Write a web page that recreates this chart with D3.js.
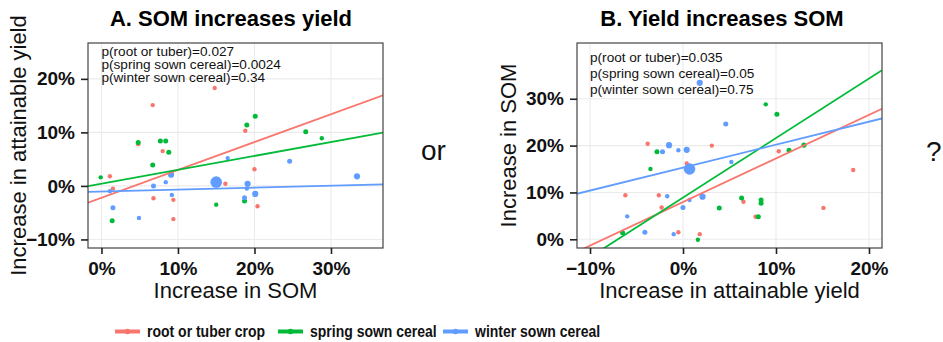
<!DOCTYPE html>
<html>
<head>
<meta charset="utf-8">
<script src="https://cdn.jsdelivr.net/npm/d3@7"></script>
<style>
body { margin: 0; background: #fff; }
text { font-family: "Liberation Sans", Arial, sans-serif; }
</style>
</head>
<body>
<div id="chart"></div>
<script>
const width = 943;
const height = 342;

// crop groups and ggplot default colours
const groups = ["root or tuber crop", "spring sown cereal", "winter sown cereal"];
const colors = ["#F8766D", "#00BA38", "#619CFF"];

// % increase in SOM and in attainable yield, per trial
const rootSOM = [14.8, 6.7, 18.8, 4.8, 8.0, 1.1, 1.5, 6.8, 9.4, 9.4, 16.2, 20.0, 20.4];
const rootYield = [18.3, 15.1, 10.3, 7.8, 6.5, 1.8, -0.5, -2.3, -2.6, -6.2, 0.4, 3.1, -3.8];
const rootWeight = [1, 1, 1, 1, 1, 1, 1, 1, 1, 1, 1, 1, 1];

const springSOM = [19.0, 20.1, 26.7, 28.8, 4.8, 7.7, 8.4, 8.8, 6.7, -0.1, 1.4, 15.0, 18.7];
const springYield = [11.4, 13.0, 10.1, 8.9, 8.1, 8.4, 8.4, 6.3, 3.9, 1.6, -6.5, -3.5, -2.8];
const springWeight = [1.3, 1.3, 1.3, 1, 1.3, 1.3, 1.3, 1.3, 1.3, 1, 1.3, 1, 1.3];

const winterSOM = [1.5, 4.9, 6.8, 8.4, 9.1, 9.2, 15.0, 16.5, 19.1, 19.0, 18.7, 20.1, 24.6, 33.4, 1.1];
const winterYield = [-4.1, -6.0, 0.0, 0.7, 2.1, -1.7, 0.7, 5.2, 0.4, -0.5, -2.2, -1.5, 4.6, 1.8, -1.0];
const winterWeight = [1.3, 1, 1.3, 1, 2, 1, 7, 1, 2, 1, 1.3, 2, 1.3, 2, 1];

// fitted lines [intercept, slope] per group
const fitYieldOnSOM = [[-2.2, 0.52], [0.4, 0.26], [-1.04, 0.036]];
const fitSOMOnYield = [[7.95, 0.93], [8.9, 1.27], [15.3, 0.49]];

const pYieldOnSOM = ["p(root or tuber)=0.027", "p(spring sown cereal)=0.0024", "p(winter sown cereal)=0.34"];
const pSOMOnYield = ["p(root or tuber)=0.035", "p(spring sown cereal)=0.05", "p(winter sown cereal)=0.75"];

const xTicksA = [0, 10, 20, 30];
const yTicksA = [-10, 0, 10, 20];
const xTicksB = [-10, 0, 10, 20];
const yTicksB = [0, 10, 20, 30];

const somAll = [rootSOM, springSOM, winterSOM];
const yieldAll = [rootYield, springYield, winterYield];
const weightAll = [rootWeight, springWeight, winterWeight];

const series = groups.map((name, i) => ({
	name: name,
	color: colors[i],
	points: somAll[i].map((s, j) => ({ som: s, yld: yieldAll[i][j], w: weightAll[i][j] }))
}));

const svg = d3
	.select("#chart")
	.append("svg")
	.attr("width", width)
	.attr("height", height);

const pct = (d) => d3.format(".0%")(d / 100);
const radius = d3.scaleSqrt().domain([1, 7]).range([2.2, 5.8]);

function panel(cfg) {
	const x = d3.scaleLinear().domain(cfg.xDomain).range([cfg.left, cfg.right]);
	const y = d3.scaleLinear().domain(cfg.yDomain).range([cfg.bottom, cfg.top]);
	const g = svg.append("g");

	g.append("clipPath")
		.attr("id", cfg.id + "-clip")
		.append("rect")
		.attr("x", cfg.left)
		.attr("y", cfg.top)
		.attr("width", cfg.right - cfg.left)
		.attr("height", cfg.bottom - cfg.top);

	// grid
	g.selectAll(".gx")
		.data(cfg.xTicks)
		.join("line")
		.attr("x1", (d) => x(d))
		.attr("x2", (d) => x(d))
		.attr("y1", cfg.top)
		.attr("y2", cfg.bottom)
		.attr("stroke", "#EBEBEB")
		.attr("stroke-width", 1.1);
	g.selectAll(".gy")
		.data(cfg.yTicks)
		.join("line")
		.attr("y1", (d) => y(d))
		.attr("y2", (d) => y(d))
		.attr("x1", cfg.left)
		.attr("x2", cfg.right)
		.attr("stroke", "#EBEBEB")
		.attr("stroke-width", 1.1);

	// points
	series.forEach((s) => {
		g.append("g")
			.selectAll("circle")
			.data(s.points)
			.join("circle")
			.attr("cx", (d) => x(cfg.xVal(d)))
			.attr("cy", (d) => y(cfg.yVal(d)))
			.attr("r", (d) => radius(d.w))
			.attr("fill", s.color);
	});

	// fitted lines, full range
	g.append("g")
		.attr("clip-path", "url(#" + cfg.id + "-clip)")
		.selectAll("line")
		.data(cfg.fits)
		.join("line")
		.attr("x1", x(cfg.xDomain[0]))
		.attr("x2", x(cfg.xDomain[1]))
		.attr("y1", (d) => y(d[0] + d[1] * cfg.xDomain[0]))
		.attr("y2", (d) => y(d[0] + d[1] * cfg.xDomain[1]))
		.attr("stroke", (d, i) => colors[i])
		.attr("stroke-width", 1.8);

	// p values
	g.append("g")
		.selectAll("text")
		.data(cfg.pText)
		.join("text")
		.attr("x", x(cfg.pAt[0]))
		.attr("y", (d, i) => y(cfg.pAt[1]) + i * cfg.pStep)
		.style("font-size", "13.6px")
		.attr("fill", "#111")
		.text((d) => d);

	// border
	g.append("rect")
		.attr("x", cfg.left)
		.attr("y", cfg.top)
		.attr("width", cfg.right - cfg.left)
		.attr("height", cfg.bottom - cfg.top)
		.attr("fill", "none")
		.attr("stroke", "#444")
		.attr("stroke-width", 1.2);

	// axes
	const ax = g.append("g")
		.attr("transform", "translate(0," + cfg.bottom + ")")
		.call(d3.axisBottom(x).tickValues(cfg.xTicks).tickFormat(pct).tickSize(6).tickPadding(8));
	const ay = g.append("g")
		.attr("transform", "translate(" + cfg.left + ",0)")
		.call(d3.axisLeft(y).tickValues(cfg.yTicks).tickFormat(pct).tickSize(7).tickPadding(6));
	[ax, ay].forEach((a) => {
		a.select(".domain").remove();
		a.selectAll(".tick line").attr("stroke", "#222").attr("stroke-width", 1.6);
		a.selectAll(".tick text")
			.attr("fill", "#111")
			.style("font-size", "19px")
			.style("font-weight", "bold")
			.style("font-family", "'Liberation Sans', Arial, sans-serif");
	});

	// titles
	g.append("text")
		.attr("x", cfg.titleX)
		.attr("y", 26)
		.attr("text-anchor", "middle")
		.style("font-size", "22px")
		.style("font-weight", "bold")
		.text(cfg.title);
	g.append("text")
		.attr("x", (cfg.left + cfg.right) / 2)
		.attr("y", 298)
		.attr("text-anchor", "middle")
		.style("font-size", "22px")
		.attr("fill", "#111")
		.text(cfg.xLabel);
	g.append("text")
		.attr("transform", "translate(" + cfg.yLabelX + "," + (cfg.top + cfg.bottom) / 2 + ") rotate(-90)")
		.attr("text-anchor", "middle")
		.style("font-size", "22px")
		.attr("fill", "#111")
		.text(cfg.yLabel);
}

panel({
	id: "a",
	left: 88, right: 383, top: 43, bottom: 248,
	xDomain: [-1.76, 36.8], yDomain: [-11.6, 26.7],
	xTicks: xTicksA, yTicks: yTicksA,
	xVal: (d) => d.som, yVal: (d) => d.yld,
	fits: fitYieldOnSOM,
	pText: pYieldOnSOM, pAt: [0, 24.2], pStep: 13,
	title: "A. SOM increases yield", titleX: 231,
	xLabel: "Increase in SOM", yLabel: "Increase in attainable yield", yLabelX: 26
});

panel({
	id: "b",
	left: 577, right: 882, top: 43, bottom: 248,
	xDomain: [-11.4, 21.4], yDomain: [-1.86, 41.9],
	xTicks: xTicksB, yTicks: yTicksB,
	xVal: (d) => d.yld, yVal: (d) => d.som,
	fits: fitSOMOnYield,
	pText: pSOMOnYield, pAt: [-10, 37.9], pStep: 16,
	title: "B. Yield increases SOM", titleX: 722,
	xLabel: "Increase in attainable yield", yLabel: "Increase in SOM", yLabelX: 516
});

// "or" and "?"
svg.append("text").attr("x", 421).attr("y", 160).style("font-size", "28px").attr("fill", "#111").text("or");
svg.append("text").attr("x", 926).attr("y", 161).style("font-size", "28px").attr("fill", "#111").text("?");

// legend
const legendX = [115, 278, 443];
const legend = svg
	.append("g")
	.selectAll("g")
	.data(series)
	.join("g")
	.attr("transform", (d, i) => "translate(" + legendX[i] + ",331.5)");
legend.append("line")
	.attr("x1", 0).attr("x2", 25)
	.attr("stroke", (d) => d.color)
	.attr("stroke-width", 4);
legend.append("circle")
	.attr("cx", 12.5).attr("r", 2.8)
	.attr("fill", (d) => d.color);
legend.append("text")
	.attr("transform", "translate(32,5.5) scale(1,1.2)")
	.style("font-size", "14px")
	.style("font-weight", "bold")
	.attr("fill", "#111")
	.text((d) => d.name);
</script>
</body>
</html>
